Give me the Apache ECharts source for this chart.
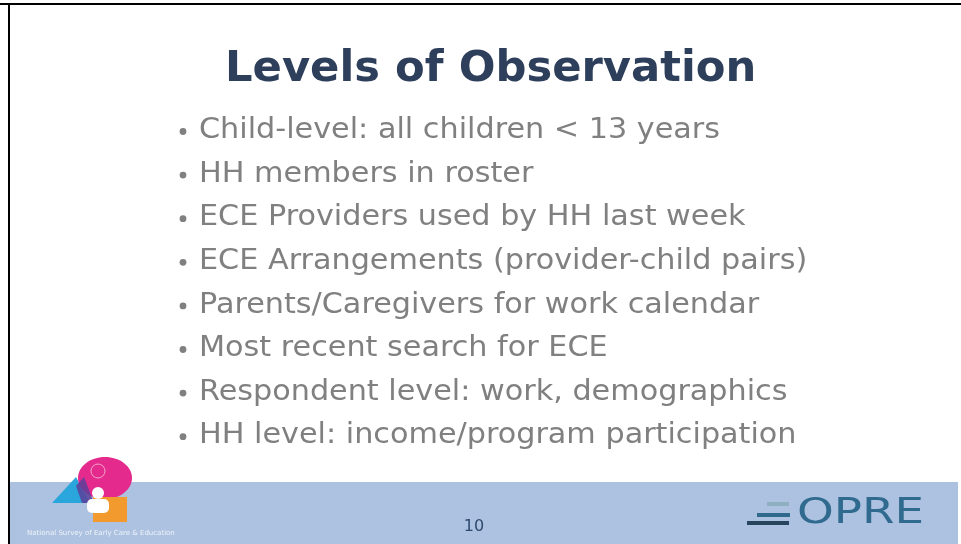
<!DOCTYPE html>
<html>
<head>
<meta charset="utf-8">
<script src="https://cdn.jsdelivr.net/npm/echarts@6/dist/echarts.min.js"></script>
<style>
  html, body { margin: 0; padding: 0; background: #fff; }
  #slide { width: 961px; height: 544px; }
</style>
</head>
<body>
<div id="slide"></div>
<script>
const slideTitle = 'Levels of Observation'
const bulletItems = [
  'Child-level: all children < 13 years',
  'HH members in roster',
  'ECE Providers used by HH last week',
  'ECE Arrangements (provider-child pairs)',
  'Parents/Caregivers for work calendar',
  'Most recent search for ECE',
  'Respondent level: work, demographics',
  'HH level: income/program participation'
]
const pageNumber = '10'
const footerCaption = 'National Survey of Early Care & Education'

const chart = echarts.init(document.getElementById('slide'))

// bullet lines (DejaVu is a bit narrower than the slide's Verdana, so stretch a little)
const bulletTop = 131
const bulletStep = 43.6
const bulletGraphics = []
bulletItems.forEach((item, i) => {
  const y = bulletTop + i * bulletStep
  bulletGraphics.push({
    type: 'circle',
    shape: { cx: 183, cy: y + 0.5, r: 3.4 },
    style: { fill: '#808080' }
  })
  bulletGraphics.push({
    type: 'text',
    x: 199,
    y: y,
    scaleX: 1.08,
    style: {
      text: item,
      font: '28px "DejaVu Sans"',
      fill: '#808080',
      verticalAlign: 'middle'
    }
  })
})

const option = {
  graphic: [
    // frame lines
    { type: 'rect', shape: { x: 0, y: 3, width: 961, height: 2 }, style: { fill: '#000' } },
    { type: 'rect', shape: { x: 8, y: 3, width: 2, height: 541 }, style: { fill: '#000' } },
    // title
    {
      type: 'text', x: 225, y: 70, scaleX: 1.03,
      style: { text: slideTitle, font: 'bold 42px "DejaVu Sans"', fill: '#2e3f5c', verticalAlign: 'middle' }
    },
    // footer band
    { type: 'rect', shape: { x: 10, y: 482, width: 948, height: 62 }, style: { fill: '#adc2e0' } },
    // page number
    {
      type: 'text', x: 474, y: 527,
      style: { text: pageNumber, font: '16px "DejaVu Sans"', fill: '#2e4a6e', align: 'center', verticalAlign: 'middle' }
    },
    // NSECE logo
    { type: 'polygon', shape: { points: [[52, 503], [76, 477], [90, 503]] }, style: { fill: '#2aa6dc' } },
    { type: 'ellipse', shape: { cx: 105, cy: 478, rx: 27, ry: 21 }, style: { fill: '#e42a8c' } },
    { type: 'rect', shape: { x: 93, y: 497, width: 34, height: 25 }, style: { fill: '#f29a2e' } },
    { type: 'polygon', shape: { points: [[76, 486], [84, 477], [94, 503], [82, 503]] }, style: { fill: '#5a3f9a', opacity: 0.85 } },
    { type: 'circle', shape: { cx: 98, cy: 493, r: 6 }, style: { fill: '#fff' } },
    { type: 'rect', shape: { x: 87, y: 499, width: 22, height: 14, r: 5 }, style: { fill: '#fff' } },
    { type: 'circle', shape: { cx: 98, cy: 471, r: 7 }, style: { fill: 'none', stroke: '#f4a6cc', lineWidth: 1 } },
    {
      type: 'text', x: 27, y: 533,
      style: { text: footerCaption, font: '7px "DejaVu Sans"', fill: '#eef3fa', verticalAlign: 'middle' }
    },
    // OPRE logo
    { type: 'rect', shape: { x: 767, y: 502, width: 22, height: 4 }, style: { fill: '#8fb0c0' } },
    { type: 'rect', shape: { x: 757, y: 513, width: 33, height: 4 }, style: { fill: '#2f6a8c' } },
    { type: 'rect', shape: { x: 747, y: 521, width: 42, height: 4 }, style: { fill: '#27465e' } },
    {
      type: 'text', x: 797, y: 514, scaleX: 1.3,
      style: { text: 'OPRE', font: '36px "DejaVu Sans"', fill: '#306a8e', verticalAlign: 'middle' }
    }
  ].concat(bulletGraphics)
}

chart.setOption(option)
</script>
</body>
</html>
